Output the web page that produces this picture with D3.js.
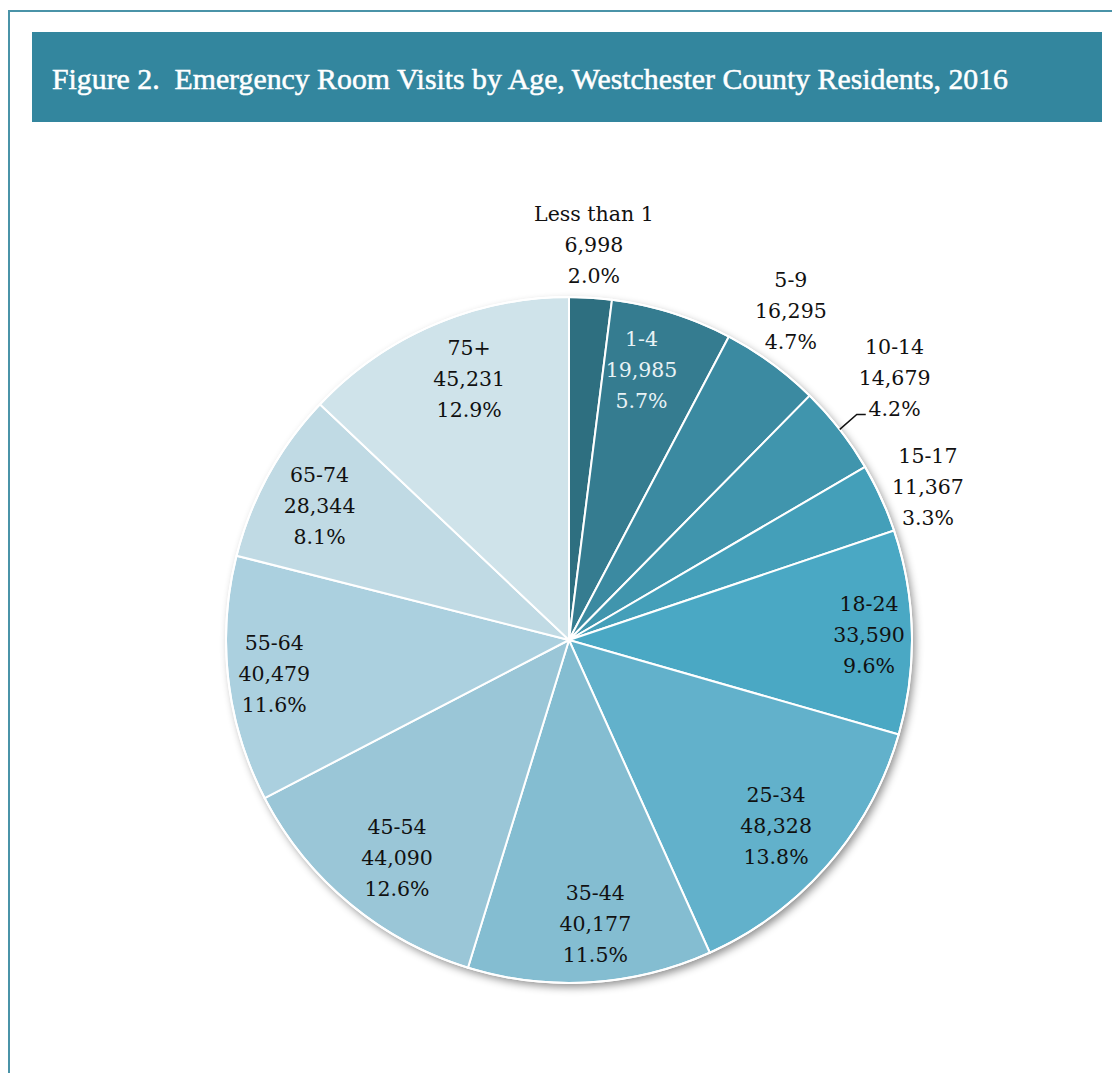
<!DOCTYPE html>
<html><head><meta charset="utf-8">
<script src="https://cdn.jsdelivr.net/npm/d3@7"></script>
<style>html,body{margin:0;padding:0;background:#fff;}svg{display:block;}</style>
</head><body>
<svg id="c" width="1112" height="1073"></svg>
<script>
const categories = ["Less than 1","1-4","5-9","10-14","15-17","18-24","25-34","35-44","45-54","55-64","65-74","75+"];
const visits = [6998,19985,16295,14679,11367,33590,48328,40177,44090,40479,28344,45231];
const percents = ["2.0%","5.7%","4.7%","4.2%","3.3%","9.6%","13.8%","11.5%","12.6%","11.6%","8.1%","12.9%"];
const colors = ["#2e6f80","#357c90","#3b8aa1","#4095ad","#449fb9","#4aa8c4","#62b1cb","#84bdd1","#9ac6d7","#abd0df","#c0dae4","#cfe3ea"];
const title = "Figure 2.  Emergency Room Visits by Age, Westchester County Residents, 2016";

const svg = d3.select("#c");
const defs = svg.append("defs");
const f = defs.append("filter").attr("id","sh").attr("x","-10%").attr("y","-10%").attr("width","125%").attr("height","125%");
f.append("feDropShadow").attr("dx",3).attr("dy",4).attr("stdDeviation",4).attr("flood-color","#000").attr("flood-opacity",0.45);

// frame
svg.append("line").attr("x1",9).attr("x2",1112).attr("y1",11).attr("y2",11).attr("stroke","#4a93a8").attr("stroke-width",2);
svg.append("line").attr("x1",9).attr("x2",9).attr("y1",10).attr("y2",1073).attr("stroke","#4a93a8").attr("stroke-width",2);

// title bar
svg.append("rect").attr("x",32).attr("y",32).attr("width",1070).attr("height",90).attr("fill","#33869e");
svg.append("text").attr("x",52).attr("y",89).attr("fill","#fff").attr("stroke","#fff").attr("stroke-width",0.5)
  .attr("font-family","'Liberation Serif', serif").attr("font-size",29).style("white-space","pre")
  .attr("textLength",956).attr("lengthAdjust","spacingAndGlyphs").text(title);

const cx = 569, cy = 640, R = 343;
const g = svg.append("g").attr("transform",`translate(${cx},${cy})`);
const pie = d3.pie().sort(null).value(d=>d)(visits);
const arc = d3.arc().innerRadius(0).outerRadius(R);

g.append("circle").attr("r",R).attr("fill","#fff").attr("filter","url(#sh)");
g.selectAll("path.s").data(pie).join("path").attr("class","s")
  .attr("d",arc).attr("fill",(d,i)=>colors[i]).attr("stroke","#fff").attr("stroke-width",2);
g.append("circle").attr("r",R).attr("fill","none").attr("stroke","#fff").attr("stroke-width",2);

const fmt = d3.format(",");
// label layout: radius factors and small nudges
const outside = {"Less than 1":1.155,"5-9":1.155,"10-14":1.21,"15-17":1.14};
const inside = {"18-24":0.875,"55-64":0.865,"65-74":0.83,"35-44":0.815};
const nudge = {"1-4":[-11,-5],"5-9":[-12,-9],"10-14":[-2,-7],"15-17":[3,9],"18-24":[0,2],
  "25-34":[-3,4],"35-44":[9,5],"45-54":[6,5],"65-74":[0,3],"75+":[10,-6]};
pie.forEach((d,i)=>{
  const name = categories[i];
  const a = (d.startAngle+d.endAngle)/2;
  const k = outside[name] || inside[name] || 0.81;
  const n = nudge[name] || [0,0];
  const x = Math.sin(a)*R*k + n[0], y = -Math.cos(a)*R*k + n[1];
  const txt = g.append("text").attr("text-anchor","middle")
    .attr("font-family","'DejaVu Serif', serif").attr("font-size",20.5)
    .attr("fill", name==="1-4" ? "#e8f2f5" : "#111");
  [name, fmt(visits[i]), percents[i]].forEach((s,j)=>{
    txt.append("tspan").attr("x",x).attr("y",y + (j-1)*31 + 7).text(s);
  });
  if(name==="10-14"){
    const ex = Math.sin(a)*R, ey = -Math.cos(a)*R;
    g.append("polyline").attr("points",`${ex},${ey} ${ex+17},${ey-15} ${ex+26},${ey-15}`)
      .attr("fill","none").attr("stroke","#111").attr("stroke-width",1.5);
  }
});
</script>
</body></html>
